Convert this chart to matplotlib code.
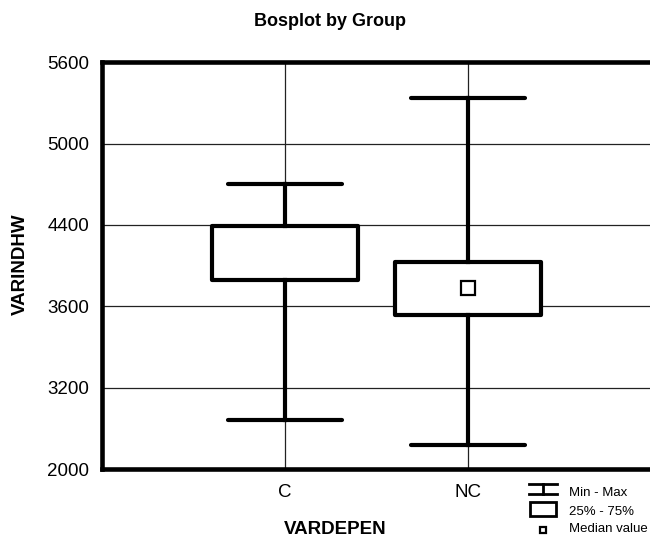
import numpy as np
import matplotlib
matplotlib.use("Agg")
import matplotlib.pyplot as plt
from matplotlib.lines import Line2D
from matplotlib.patches import Rectangle

# ---- data ----
groups = ["C", "NC"]
mins = [2730, 2350]
q1s = [3860, 3555]
q3s = [4390, 4040]
maxs = [4705, 5340]
medians = [4120, 3777]
show_median = [False, True]
ytick_vals = [2000, 3200, 3600, 4400, 5000, 5600]
ytick_labels = ["2000", "3200", "3600", "4400", "5000", "5600"]

FONT = ["Liberation Sans", "DejaVu Sans"]
plt.rcParams["font.family"] = FONT

fig = plt.figure(figsize=(6.5, 5.43), dpi=100)
W, H = 650, 543
ax = fig.add_axes([102 / W, 1 - 469 / H, 549 / W, (469 - 62.3) / H])

pos_idx = np.arange(len(ytick_vals), dtype=float)
fwd = lambda v: np.interp(v, ytick_vals, pos_idx)
inv = lambda p: np.interp(p, pos_idx, ytick_vals)
ax.set_yscale("function", functions=(fwd, inv))
ax.set_ylim(ytick_vals[0], ytick_vals[-1])
ax.set_xlim(0, 3)

positions = np.arange(1, len(groups) + 1)
stats = []
for g, lo, a, b, hi, m in zip(groups, mins, q1s, q3s, maxs, medians):
    stats.append(dict(label=g, whislo=lo, q1=a, med=m, q3=b, whishi=hi, fliers=[]))

lw = 3.0
ax.bxp(stats, positions=positions, widths=0.8, capwidths=0.62, patch_artist=True,
       showfliers=False,
       boxprops=dict(facecolor="white", edgecolor="black", linewidth=lw, joinstyle="round"),
       whiskerprops=dict(color="black", linewidth=lw),
       capprops=dict(color="black", linewidth=lw, solid_capstyle="round"),
       medianprops=dict(linewidth=0),
       zorder=3)

for p, m, s in zip(positions, medians, show_median):
    if s:
        ax.plot([p], [m], marker="s", markersize=10, markerfacecolor="white",
                markeredgecolor="black", markeredgewidth=1.6, linestyle="none", zorder=5)

ax.set_xticks(positions)
ax.set_xticklabels(groups, fontsize=13.5)
ax.set_yticks(ytick_vals)
ax.set_yticklabels(ytick_labels, fontsize=13.5)
ax.tick_params(axis="y", length=0, pad=9)
ax.tick_params(axis="x", length=0, pad=11)
ax.grid(True, color="#222222", linewidth=0.9, zorder=0)
ax.set_axisbelow(True)
for s in ["top", "left", "bottom"]:
    ax.spines[s].set_linewidth(3.3)
ax.spines["right"].set_visible(False)

fig.text(330 / W, 1 - 22 / H, "Bosplot by Group", ha="center", va="center",
         fontsize=13, fontweight="bold")
fig.text(20 / W, 1 - 264 / H, "VARINDHW", ha="center", va="center", rotation=90,
         fontsize=13.5, fontweight="bold")
fig.text(335 / W, 1 - 530 / H, "VARDEPEN", ha="center", va="center",
         fontsize=13.5, fontweight="bold")

# legend
def fx(x):
    return x / W
def fy(y):
    return 1 - y / H
llw = 2.0
fig.add_artist(Line2D([fx(529), fx(557)], [fy(484), fy(484)], color="black", lw=llw))
fig.add_artist(Line2D([fx(543), fx(543)], [fy(484), fy(494)], color="black", lw=llw))
fig.add_artist(Line2D([fx(529), fx(557)], [fy(494), fy(494)], color="black", lw=llw))
fig.add_artist(Rectangle((fx(530), fy(516)), fx(556) - fx(530), fy(502) - fy(516),
                         facecolor="white", edgecolor="black", lw=llw))
fig.add_artist(Line2D([fx(543)], [fy(530)], marker="s", markersize=4.5, markerfacecolor="white",
                      markeredgecolor="black", markeredgewidth=1.6, linestyle="none"))
fig.text(fx(569), fy(493), "Min - Max", ha="left", va="center", fontsize=9.5)
fig.text(fx(569), fy(512), "25% - 75%", ha="left", va="center", fontsize=9.5)
fig.text(fx(569), fy(529), "Median value", ha="left", va="center", fontsize=9.5)

fig.savefig("out.png", dpi=100)
